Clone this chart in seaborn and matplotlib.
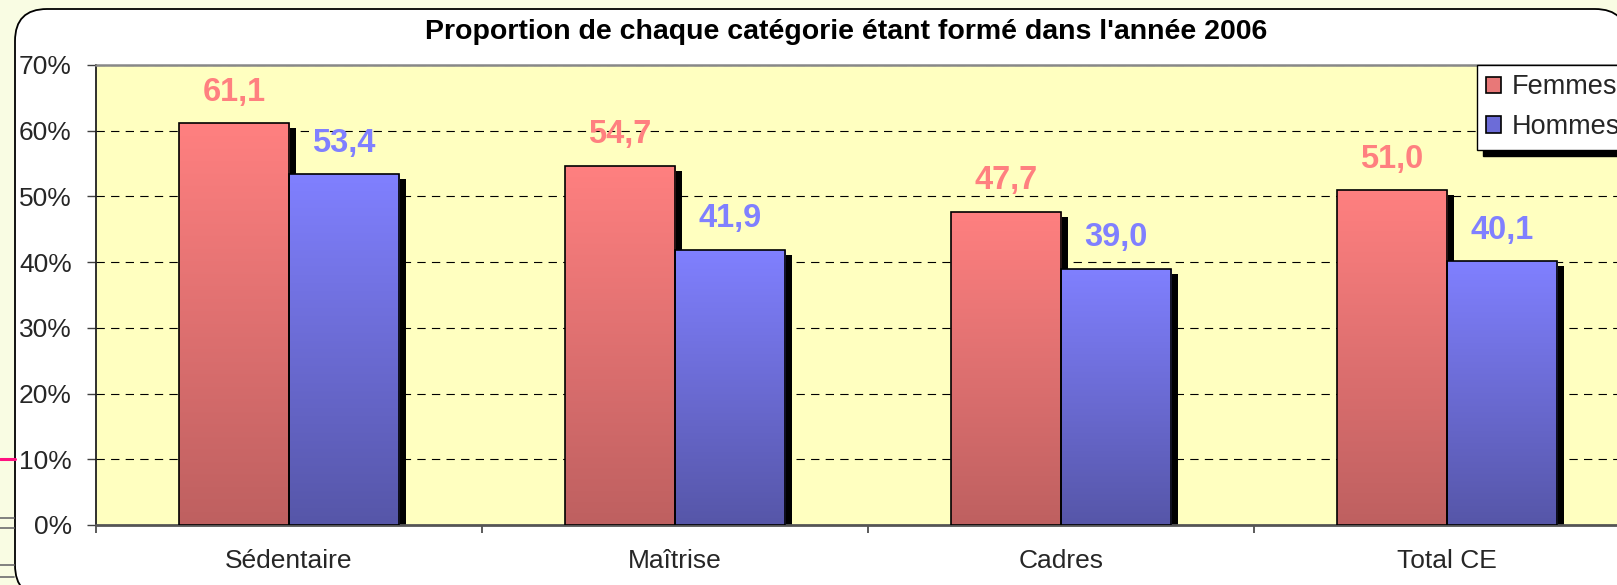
import numpy as np
import pandas as pd
import matplotlib
matplotlib.use("Agg")
import matplotlib.pyplot as plt
import seaborn as sns
from matplotlib.patches import Rectangle, FancyBboxPatch, Patch
from matplotlib.transforms import ScaledTranslation
from matplotlib.lines import Line2D

# ---------------- data ----------------
categories = ["Sédentaire", "Maîtrise", "Cadres", "Total CE"]
femmes = [61.1, 54.7, 47.7, 51.0]
hommes = [53.4, 41.9, 39.0, 40.1]
series = ["Femmes", "Hommes"]
yticks = [0, 10, 20, 30, 40, 50, 60, 70]
title = "Proportion de chaque catégorie étant formé dans l'année 2006"

df = pd.DataFrame({
    "cat": categories * 2,
    "val": femmes + hommes,
    "sexe": [series[0]] * len(categories) + [series[1]] * len(categories),
})

sns.set_style("white")
plt.rcParams["font.family"] = ["Liberation Sans", "DejaVu Sans"]
plt.rcParams["lines.scale_dashes"] = False

W, H = 1617, 585
fig = plt.figure(figsize=(W / 100, H / 100), dpi=100)
fig.patch.set_facecolor("#F9FCE3")

# white rounded panel (pixel coords)
panel = FancyBboxPatch((15, -12), 1612, 585 - 9 + 12,
                       boxstyle="round,pad=0,rounding_size=32",
                       transform=None, facecolor="white", edgecolor="black",
                       linewidth=1.3, zorder=-2)
fig.add_artist(panel)
# small artefacts at the left edge
fig.add_artist(Line2D([0, 15], [H - 459, H - 459], transform=None,
                      color="#FF1080", lw=2.2, zorder=-1))
for yy in (518, 528, 565, 577):
    fig.add_artist(Line2D([0, 14], [H - yy, H - yy], transform=None,
                          color="#777777", lw=1.3, zorder=-1))

ax = fig.add_axes([96 / W, (H - 525) / H, 1544 / W, 460 / H])
ax.set_zorder(1)
ax.set_facecolor("#FFFFC0")

top_cols = {"Femmes": np.array([255, 128, 128]) / 255,
            "Hommes": np.array([128, 128, 255]) / 255}
bot_cols = {"Femmes": np.array([190, 96, 96]) / 255,
            "Hommes": np.array([86, 86, 168]) / 255}

sns.barplot(data=df, x="cat", y="val", hue="sexe", hue_order=series,
            order=categories, palette={"Femmes": "#FF8080", "Hommes": "#8080FF"},
            width=0.57, saturation=1, edgecolor="black", linewidth=1.2,
            legend=False, ax=ax, zorder=3)

shadow_tr = ax.transData + ScaledTranslation(7 / 100, -5 / 100, fig.dpi_scale_trans)
for cont, s in zip(ax.containers, series):
    for p in cont.patches:
        x0, w, h = p.get_x(), p.get_width(), p.get_height()
        t = np.linspace(0, 1, 256)[:, None]
        grad = (1 - t) * top_cols[s] + t * bot_cols[s]
        img = ax.imshow(grad[:, None, :], extent=[x0, x0 + w, 0, h],
                        aspect="auto", origin="upper", interpolation="bilinear",
                        zorder=2.6)
        img.set_clip_path(p)
        p.set_facecolor("none")
        p.set_zorder(3)
        sh = Rectangle((x0, 0), w, h, transform=shadow_tr, facecolor="black",
                       edgecolor="none", zorder=2.5)
        ax.add_patch(sh)

label_cols = {"Femmes": "#FF8080", "Hommes": "#8080FF"}
for cont, s in zip(ax.containers, series):
    ax.bar_label(cont, labels=[f"{v:.1f}".replace(".", ",") for v in cont.datavalues],
                 padding=11, fontsize=23.5, fontweight="bold", color=label_cols[s])

ax.set_xlim(-0.5, len(categories) - 0.5)
ax.set_ylim(0, 70)
ax.set_yticks(yticks)
ax.set_yticklabels([f"{v}%" for v in yticks])
ax.yaxis.grid(True, color="black", linestyle=(0, (6, 4.5)), linewidth=0.8)
ax.set_axisbelow(True)
ax.set_xlabel("")
ax.set_ylabel("")

ax.tick_params(axis="y", which="major", length=6.5, width=1, color="#404040",
               labelsize=19, pad=11, left=True)
ax.tick_params(axis="x", which="major", length=0, labelsize=19, pad=17)
ax.set_xticks(np.arange(-0.5, len(categories), 1.0), minor=True)
ax.tick_params(axis="x", which="minor", length=6, width=1.2, color="#404040",
               bottom=True)

ax.spines["left"].set_color("#202020")
ax.spines["left"].set_linewidth(1.3)
ax.spines["bottom"].set_color("#555555")
ax.spines["bottom"].set_linewidth(2)
ax.spines["top"].set_color("#888888")
ax.spines["top"].set_linewidth(1.8)
ax.spines["right"].set_visible(False)

handles = [Patch(facecolor="#E87878", edgecolor="black", linewidth=1.2),
           Patch(facecolor="#6C6CD8", edgecolor="black", linewidth=1.2)]
leg = ax.legend(handles, series, loc="upper left",
                bbox_to_anchor=(1477 / W, 1 - 65 / H), bbox_transform=fig.transFigure,
                borderaxespad=0, fontsize=19.5, frameon=True, fancybox=False,
                shadow={"color": "black", "alpha": 1, "ox": 4.5, "oy": -4.5},
                handlelength=0.55, handleheight=0.55, handletextpad=0.4,
                labelspacing=0.5, borderpad=0.35)
leg.get_frame().set_edgecolor("black")
leg.get_frame().set_linewidth(1)
leg.get_frame().set_facecolor("white")
leg.set_zorder(10)

fig.text(846 / W, 1 - 32 / H, title, ha="center", va="center",
         fontsize=20.5, fontweight="bold", color="black")

fig.savefig("out.png", dpi=100, facecolor=fig.get_facecolor())
